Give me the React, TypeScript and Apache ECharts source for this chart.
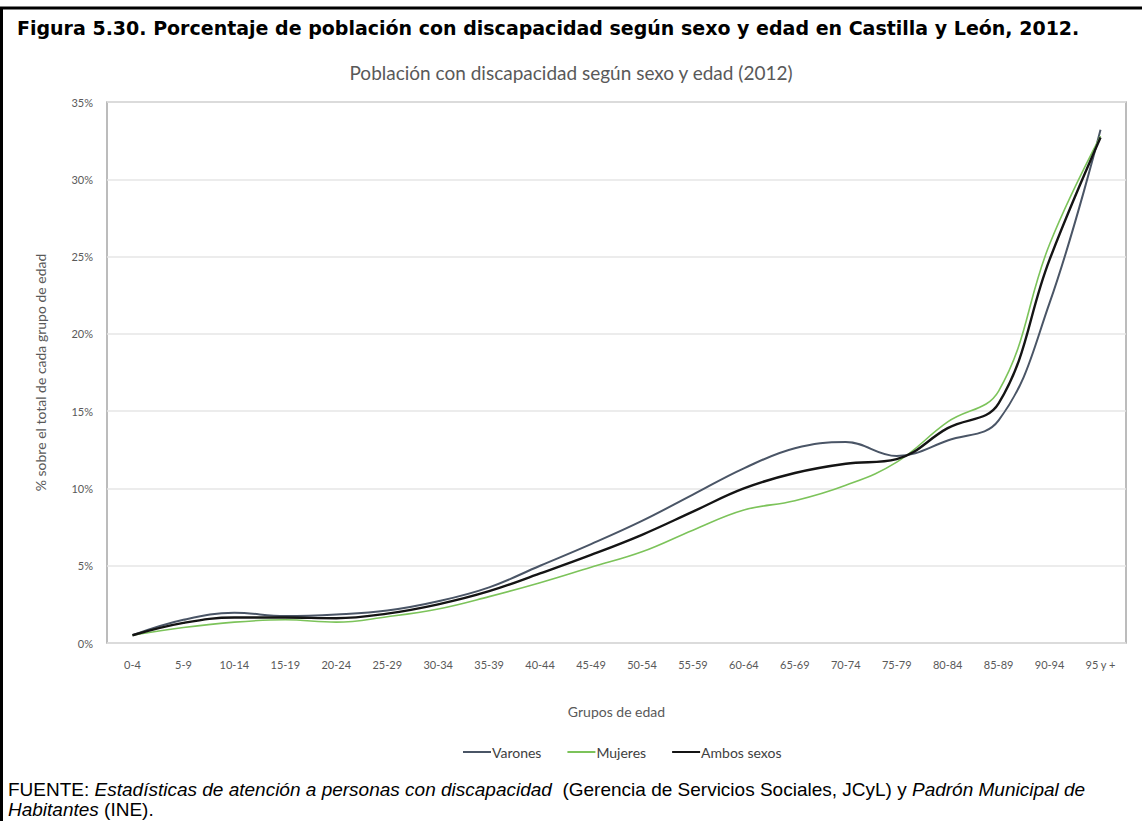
import React, { useEffect, useRef } from "react";
import * as echarts from "echarts";

// Grupos de edad (quinquenales)
const categories = [
  "0-4", "5-9", "10-14", "15-19", "20-24", "25-29", "30-34", "35-39", "40-44", "45-49",
  "50-54", "55-59", "60-64", "65-69", "70-74", "75-79", "80-84", "85-89", "90-94", "95 y +",
];

// % de población con discapacidad sobre el total de cada grupo de edad
const varones = [0.5, 1.5, 1.95, 1.75, 1.85, 2.1, 2.7, 3.6, 5.0, 6.4, 7.9, 9.6, 11.3, 12.6, 13.0, 12.1, 13.1, 14.4, 22.0, 33.2];
const mujeres = [0.5, 1.0, 1.35, 1.5, 1.35, 1.7, 2.2, 3.0, 3.9, 4.9, 5.9, 7.3, 8.6, 9.2, 10.2, 11.7, 14.3, 16.3, 25.8, 32.8];
const ambos = [0.5, 1.3, 1.65, 1.65, 1.6, 1.9, 2.5, 3.35, 4.5, 5.7, 7.0, 8.5, 10.0, 11.0, 11.6, 11.9, 13.9, 15.5, 24.8, 32.7];

const seriesNames = ["Varones", "Mujeres", "Ambos sexos"];
const yTicks = [0, 5, 10, 15, 20, 25, 30, 35];

const FIG_TITLE = "Figura 5.30. Porcentaje de población con discapacidad según sexo y edad en Castilla y León, 2012.";
const CHART_TITLE = "Población con discapacidad según sexo y edad (2012)";
const Y_TITLE = "% sobre el total de cada grupo de edad";
const X_TITLE = "Grupos de edad";

const W = 1142;
const H = 821;
const SANS = "Lato, 'Open Sans', sans-serif";
const ARIAL = "'Liberation Sans', Arial, sans-serif";

export default function App() {
  const ref = useRef<HTMLDivElement>(null);

  useEffect(() => {
    document.body.style.margin = "0";
    if (!ref.current) return;
    const chart = echarts.init(ref.current, undefined, { renderer: "svg" });

    const gridLeft = 107;
    const gridRight = W - 1126;
    const gridTop = 102;
    const gridBottom = H - 643;

    chart.setOption({
      animation: false,
      backgroundColor: "#ffffff",
      title: {
        text: CHART_TITLE,
        left: "center",
        top: 58,
        textStyle: { fontFamily: SANS, fontSize: 19, fontWeight: "normal", color: "#595959" },
      },
      legend: {
        data: seriesNames,
        top: 740,
        left: 458,
        itemWidth: 28,
        itemHeight: 2,
        itemGap: 26,
        icon: "rect",
        textStyle: { fontFamily: SANS, fontSize: 14, color: "#404040", padding: [0, 0, 0, -4] },
      },
      grid: {
        left: gridLeft,
        right: gridRight,
        top: gridTop,
        bottom: gridBottom,
        show: true,
        borderColor: "#a6a6a6",
        borderWidth: 1.5,
        containLabel: false,
      },
      xAxis: {
        type: "category",
        data: categories,
        boundaryGap: true,
        axisLine: { show: false },
        axisTick: { show: false },
        axisLabel: {
          interval: 0,
          margin: 16,
          fontFamily: SANS,
          fontSize: 11,
          color: "#595959",
        },
        name: X_TITLE,
        nameLocation: "middle",
        nameGap: 61,
        nameTextStyle: { fontFamily: SANS, fontSize: 14, color: "#595959" },
      },
      yAxis: {
        type: "value",
        min: yTicks[0],
        max: yTicks[yTicks.length - 1],
        interval: 5,
        axisLine: { show: false },
        axisTick: { show: false },
        splitLine: { lineStyle: { color: "#e6e6e6", width: 1.5 } },
        axisLabel: {
          formatter: "{value}%",
          margin: 14,
          fontFamily: SANS,
          fontSize: 11,
          color: "#595959",
        },
        name: Y_TITLE,
        nameLocation: "middle",
        nameGap: 60,
        nameRotate: 90,
        nameTextStyle: { fontFamily: SANS, fontSize: 14, color: "#595959" },
      },
      series: [
        {
          name: seriesNames[0],
          type: "line",
          data: varones,
          smooth: 0.4,
          symbol: "none",
          color: "#4a5566",
          lineStyle: { width: 2, color: "#4a5566" },
          z: 2,
        },
        {
          name: seriesNames[1],
          type: "line",
          data: mujeres,
          smooth: 0.4,
          symbol: "none",
          color: "#7cc35a",
          lineStyle: { width: 1.6, color: "#7cc35a" },
          z: 3,
        },
        {
          name: seriesNames[2],
          type: "line",
          data: ambos,
          smooth: 0.4,
          symbol: "none",
          color: "#141414",
          lineStyle: { width: 2.4, color: "#141414" },
          z: 4,
        },
      ],
      graphic: [
        {
          type: "rect",
          shape: { x: 1.5, y: 8, width: W + 20, height: H + 20 },
          style: { fill: "none", stroke: "#000000", lineWidth: 3 },
          silent: true,
        },
        {
          type: "text",
          x: 17,
          y: 28,
          style: {
            text: FIG_TITLE,
            fontFamily: "'DejaVu Sans', sans-serif",
            fontWeight: "bold",
            fontSize: 19,
            fill: "#000000",
            verticalAlign: "middle",
          },
        },
        {
          type: "text",
          x: 8,
          y: 799,
          style: {
            text:
              "FUENTE: {i|Estadísticas de atención a personas con discapacidad}  (Gerencia de Servicios Sociales, JCyL) y {i|Padrón Municipal de}\n{i|Habitantes} (INE).",
            fontFamily: ARIAL,
            fontSize: 19,
            lineHeight: 20,
            fill: "#000000",
            verticalAlign: "middle",
            rich: {
              i: { fontFamily: ARIAL, fontStyle: "italic", fontSize: 19, fill: "#000000", lineHeight: 20 },
            },
          },
        },
      ],
    });

    return () => {
      chart.dispose();
    };
  }, []);

  return <div ref={ref} style={{ width: W, height: H }} />;
}
